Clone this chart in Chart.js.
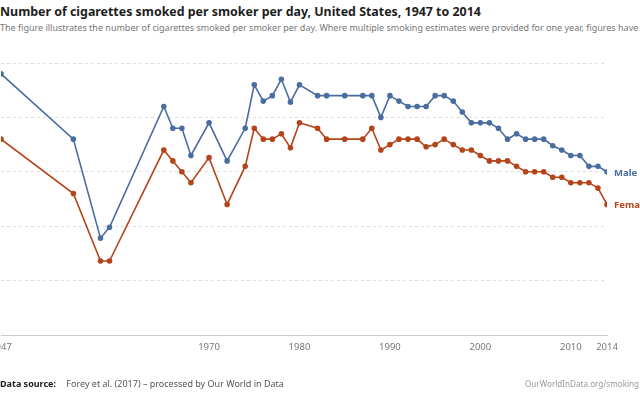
<!DOCTYPE html>
<html>
<head>
<meta charset="utf-8">
<script src="https://cdn.jsdelivr.net/npm/chart.js@4"></script>
<style>
  html, body { margin: 0; padding: 0; width: 640px; height: 400px; overflow: hidden; background: #fff; font-family: "Noto Sans", sans-serif; }
  #title { position: absolute; left: 0; top: 3px; font-size: 12.4px; font-weight: bold; color: #1d1d1d; white-space: nowrap; }
  #subtitle { position: absolute; left: 0; top: 21px; font-size: 9px; color: #777; white-space: nowrap; }
  #wrap { position: absolute; left: -40px; top: 0; width: 740px; height: 400px; }
  #footer { position: absolute; left: 0; top: 377px; font-size: 9px; color: #555; white-space: nowrap; }
  #footer b { color: #1d1d1d; margin-right: 8px; }
  #url { position: absolute; left: 525px; top: 378px; font-size: 8.1px; color: #999; white-space: nowrap; }
</style>
</head>
<body>
<div id="title">Number of cigarettes smoked per smoker per day, United States, 1947 to 2014</div>
<div id="subtitle">The figure illustrates the number of cigarettes smoked per smoker per day. Where multiple smoking estimates were provided for one year, figures have been averaged.</div>
<div id="wrap"><canvas id="chart"></canvas></div>
<div id="footer"><b>Data source:</b> Forey et al. (2017) – processed by Our World in Data</div>
<div id="url">OurWorldInData.org/smoking • CC BY</div>
<script>
// years with data (gaps are joined by the line)
const years = [1947, 1955, 1958, 1959, 1965, 1966, 1967, 1968, 1970, 1972, 1974, 1975, 1976, 1977, 1978, 1979, 1980,
  1982, 1983, 1985, 1987, 1988, 1989, 1990, 1991, 1992, 1993, 1994, 1995, 1996, 1997, 1998, 1999, 2000,
  2001, 2002, 2003, 2004, 2005, 2006, 2007, 2008, 2009, 2010, 2011, 2012, 2013, 2014];

const male = [24, 18, 8.9, 9.9, 21, 19, 19, 16.5, 19.5, 16, 19, 23, 21.5, 22, 23.5, 21.4, 23,
  22, 22, 22, 22, 22, 20, 22, 21.5, 21, 21, 21, 22, 22, 21.5, 20.5, 19.5, 19.5,
  19.5, 19, 18, 18.5, 18, 18, 18, 17.4, 17, 16.5, 16.5, 15.5, 15.5, 15];

const female = [18, 13, 6.8, 6.8, 17, 16, 15, 14, 16.3, 12, 15.5, 19, 18, 18, 18.5, 17.2, 19.5,
  19, 18, 18, 18, 19, 17, 17.5, 18, 18, 18, 17.3, 17.5, 18, 17.5, 17, 17, 16.5,
  16, 16, 16, 15.5, 15, 15, 15, 14.5, 14.5, 14, 14, 14, 13.5, 12];

const xTicks = [1947, 1970, 1980, 1990, 2000, 2010, 2014];
const yTicks = [0, 5, 10, 15, 20, 25];

const maleColor = "#4a6d9f";
const femaleColor = "#b5441a";

function pts(vals) {
  return years.map((y, i) => ({ x: y, y: vals[i] }));
}

// series name written after the last point
const endLabels = {
  id: "endLabels",
  afterDatasetsDraw(chart) {
    const ctx = chart.ctx;
    ctx.save();
    ctx.font = "bold 9.5px 'Noto Sans', sans-serif";
    ctx.textBaseline = "middle";
    chart.data.datasets.forEach((ds, i) => {
      const meta = chart.getDatasetMeta(i);
      const last = meta.data[meta.data.length - 1];
      ctx.fillStyle = ds.borderColor;
      ctx.fillText(ds.label, last.x + 7, last.y + 1);
    });
    ctx.restore();
  }
};

new Chart(document.getElementById("chart"), {
  type: "line",
  data: {
    datasets: [
      { label: "Male", data: pts(male), borderColor: maleColor, backgroundColor: maleColor,
        borderWidth: 1.6, pointRadius: 2, pointHoverRadius: 2, tension: 0 },
      { label: "Female", data: pts(female), borderColor: femaleColor, backgroundColor: femaleColor,
        borderWidth: 1.6, pointRadius: 2, pointHoverRadius: 2, tension: 0 }
    ]
  },
  options: {
    responsive: true,
    maintainAspectRatio: false,
    animation: false,
    layout: { padding: { left: 41, right: 93, top: 63, bottom: 36 } },
    plugins: { legend: { display: false }, tooltip: { enabled: false } },
    scales: {
      x: {
        type: "linear",
        min: 1947,
        max: 2014,
        afterBuildTicks(axis) { axis.ticks = xTicks.map(v => ({ value: v })); },
        afterFit(axis) { axis.height = 29; },
        ticks: {
          autoSkip: false,
          maxRotation: 0,
          padding: 7,
          color: "#777",
          font: { family: "'Noto Sans', sans-serif", size: 9.5 },
          callback: v => String(v)
        },
        grid: { display: false, drawTicks: false },
        border: { display: true, color: "#cccccc", width: 1 }
      },
      y: {
        min: 0,
        max: 25,
        afterBuildTicks(axis) { axis.ticks = yTicks.map(v => ({ value: v })); },
        afterFit(axis) { axis.width = 0; },
        ticks: { display: false },
        grid: {
          drawTicks: false,
          color: c => c.tick.value === 0 ? "rgba(0,0,0,0)" : "#dddddd",
          lineWidth: 1
        },
        border: { display: false, dash: [3, 3] }
      }
    }
  },
  plugins: [endLabels]
});
</script>
</body>
</html>
